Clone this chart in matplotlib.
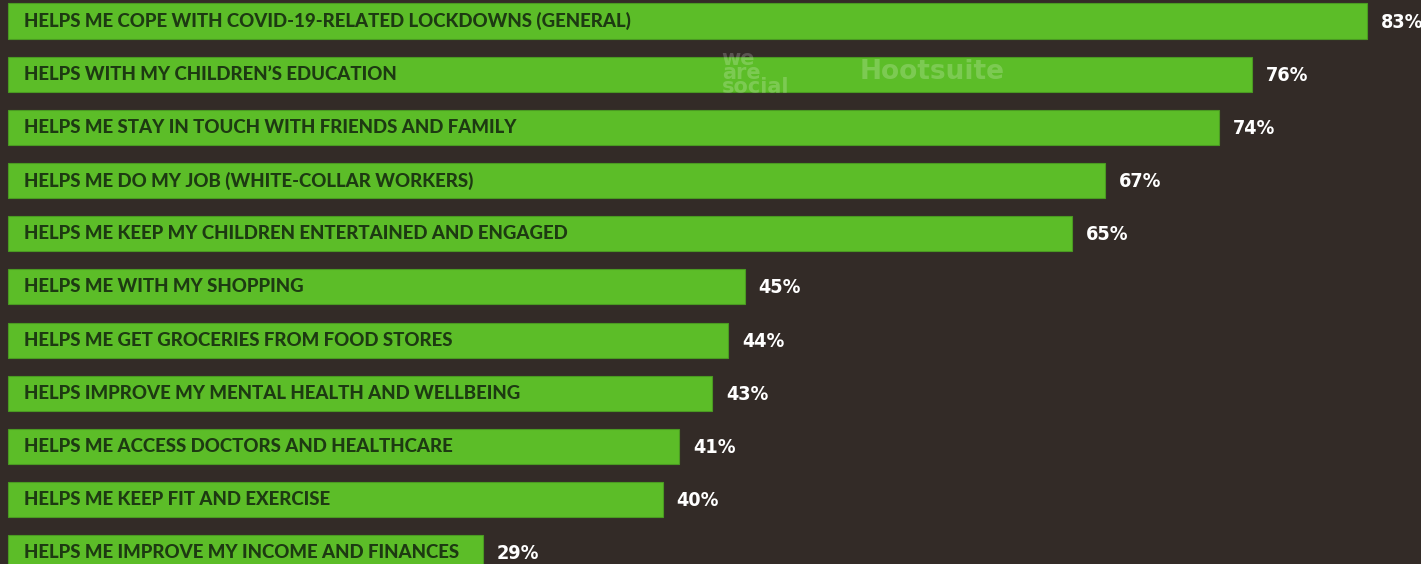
import matplotlib
matplotlib.use('Agg')
import matplotlib.pyplot as plt

labels = [
    'HELPS ME COPE WITH COVID-19-RELATED LOCKDOWNS (GENERAL)',
    'HELPS WITH MY CHILDREN\u2019S EDUCATION',
    'HELPS ME STAY IN TOUCH WITH FRIENDS AND FAMILY',
    'HELPS ME DO MY JOB (WHITE-COLLAR WORKERS)',
    'HELPS ME KEEP MY CHILDREN ENTERTAINED AND ENGAGED',
    'HELPS ME WITH MY SHOPPING',
    'HELPS ME GET GROCERIES FROM FOOD STORES',
    'HELPS IMPROVE MY MENTAL HEALTH AND WELLBEING',
    'HELPS ME ACCESS DOCTORS AND HEALTHCARE',
    'HELPS ME KEEP FIT AND EXERCISE',
    'HELPS ME IMPROVE MY INCOME AND FINANCES',
]
values = [83, 76, 74, 67, 65, 45, 44, 43, 41, 40, 29]

bg = '#332b27'
green = '#5cbd28'
dark = '#1d3a12'

fig = plt.figure(figsize=(14.21, 5.64), dpi=100, facecolor=bg)
ax = fig.add_axes([0, 0, 1, 1])
ax.set_facecolor(bg)

pos = list(range(len(values)))
ax.barh(pos, values, height=0.66, color=green, edgecolor='#4a9a22', linewidth=0.8)

for i, (lab, v) in enumerate(zip(labels, values)):
    ax.text(1.0, i, lab, ha='left', va='center', color=dark, fontsize=13.4,
            fontweight='black', family='Lato')
    ax.text(v + 0.85, i + 0.02, f'{v}%', ha='left', va='center', color='white',
            fontsize=14.2, fontweight='bold', family='DejaVu Sans',
            fontstretch='condensed')

# faint watermark
ax.text(43.6, 0.98, 'we\nare\nsocial', ha='left', va='center', color='white',
        alpha=0.2, fontsize=15, fontweight='bold', linespacing=0.62)
ax.text(52.0, 0.95, 'Hootsuite', ha='left', va='center', color='white',
        alpha=0.2, fontsize=19, fontweight='bold')

ax.set_xlim(-0.49, 86.32)
ax.set_ylim(10.21, -0.395)
ax.axis('off')

fig.savefig('out.png', dpi=100, facecolor=bg)
